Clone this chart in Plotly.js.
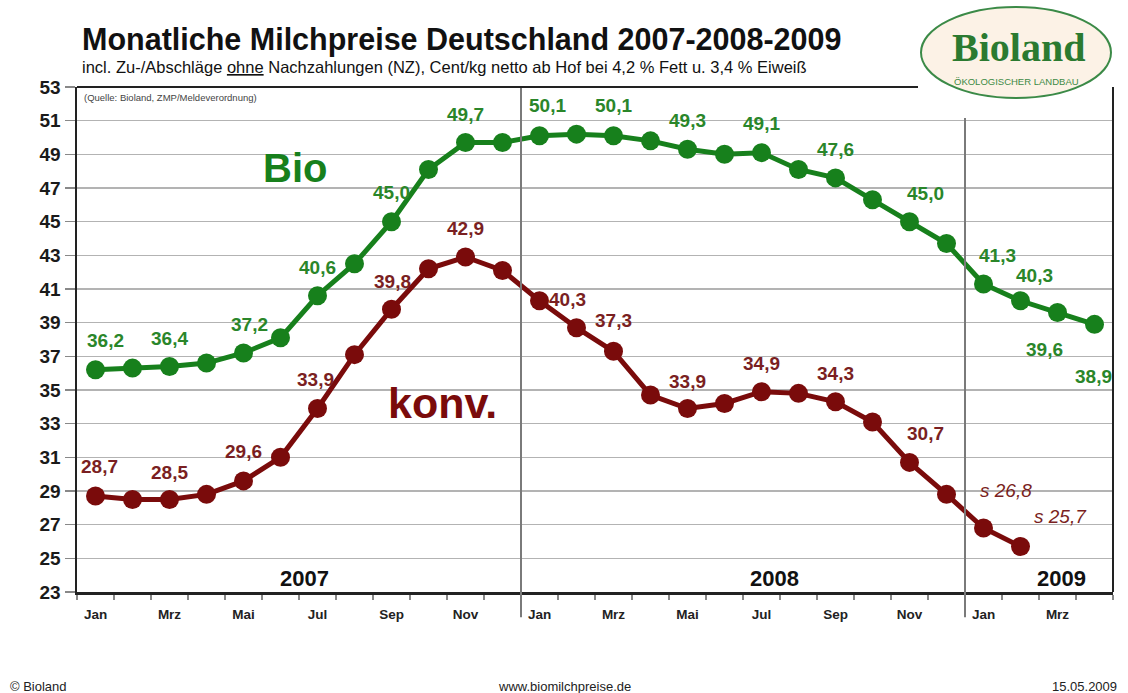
<!DOCTYPE html>
<html>
<head>
<meta charset="utf-8">
<script src="https://cdn.plot.ly/plotly-3.0.1.min.js"></script>
<style>
html,body{margin:0;padding:0;background:#ffffff;}
#chart{width:1128px;height:693px;}
</style>
</head>
<body>
<div id="chart"></div>
<script>
// ---- data ----
const periods = ['2007-01','2007-02','2007-03','2007-04','2007-05','2007-06','2007-07','2007-08','2007-09','2007-10','2007-11','2007-12',
                 '2008-01','2008-02','2008-03','2008-04','2008-05','2008-06','2008-07','2008-08','2008-09','2008-10','2008-11','2008-12',
                 '2009-01','2009-02','2009-03','2009-04'];
const bio  = [36.2,36.3,36.4,36.6,37.2,38.1,40.6,42.5,45.0,48.1,49.7,49.7,
              50.1,50.2,50.1,49.8,49.3,49.0,49.1,48.1,47.6,46.3,45.0,43.7,
              41.3,40.3,39.6,38.9];
const konv = [28.7,28.5,28.5,28.8,29.6,31.0,33.9,37.1,39.8,42.2,42.9,42.1,
              40.3,38.7,37.3,34.7,33.9,34.2,34.9,34.8,34.3,33.1,30.7,28.8,
              26.8,25.7];
const tickLabels = ['Jan','Mrz','Mai','Jul','Sep','Nov','Jan','Mrz','Mai','Jul','Sep','Nov','Jan','Mrz'];
const years = ['2007','2008','2009'];
const bioLabelIdx  = [0,2,4,6,8,10,12,14,16,18,20,22,24,25,26,27];
const konvLabelIdx = [0,2,4,6,8,10,12,14,16,18,20,22,24,25];
const konvEstimated = ['2009-01','2009-02'];   // "s" = geschätzt

// ---- styling / placement ----
const GREEN = '#17801c', RED = '#7a0b0b', GREEN_T = '#2a862a', RED_T = '#7a1f22';
const FONT = 'Arial, "Liberation Sans", Helvetica, sans-serif';
// label offsets in pixels [dx, dy(down)]
const bioOff  = {0:[10,-29],2:[0,-28],4:[6,-28],6:[0,-28],8:[0,-29],10:[0,-28],12:[8,-30],14:[0,-30],16:[0,-29],18:[0,-29],20:[0,-28],22:[16,-28],24:[14,-28],25:[14,-25],26:[-13,37],27:[-1,52]};
const konvOff = {0:[4,-30],2:[0,-27],4:[0,-29],6:[-2,-29],8:[1,-28],10:[0,-29],12:[28,-1],14:[0,-31],16:[0,-27],18:[0,-28],20:[0,-28],22:[16,-29],24:[22,-38],25:[40,-30]};

const x = periods.map((p,i)=>i);
const fmt = v => v.toFixed(1).replace('.',',');

const traces = [
  {x:x.slice(0,bio.length), y:bio, mode:'lines+markers', name:'Bio',
   line:{color:GREEN,width:5}, marker:{color:GREEN,size:19}, hoverinfo:'skip', cliponaxis:false},
  {x:x.slice(0,konv.length), y:konv, mode:'lines+markers', name:'konv.',
   line:{color:RED,width:5}, marker:{color:RED,size:19}, hoverinfo:'skip', cliponaxis:false}
];

const annotations = [];
bioLabelIdx.forEach(i=>{
  const o = bioOff[i]||[0,-28];
  annotations.push({x:i, y:bio[i], xref:'x', yref:'y', text:fmt(bio[i]), showarrow:false,
    xshift:o[0], yshift:-o[1], font:{family:FONT,size:19,color:GREEN_T,weight:'bold'}});
});
konvLabelIdx.forEach(i=>{
  const o = konvOff[i]||[0,-28];
  const est = konvEstimated.includes(periods[i]);
  annotations.push({x:i, y:konv[i], xref:'x', yref:'y',
    text: est ? '<i>s '+fmt(konv[i])+'</i>' : fmt(konv[i]), showarrow:false,
    xshift:o[0], yshift:-o[1], font:{family:FONT,size:19,color:RED_T,weight: est?'normal':'bold'}});
});
// series names
annotations.push({x:5.39, y:48.2, xref:'x', yref:'y', text:'<b>Bio</b>', showarrow:false, font:{family:FONT,size:40,color:GREEN}});
annotations.push({x:9.39, y:34.2, xref:'x', yref:'y', text:'<b>konv.</b>', showarrow:false, font:{family:FONT,size:43,color:RED}});
// year labels
[[5.66,years[0]],[18.36,years[1]],[26.1,years[2]]].forEach(a=>{
  annotations.push({x:a[0], y:0.026, xref:'x', yref:'paper', text:'<b>'+a[1]+'</b>', showarrow:false, yshift:-14,
    font:{family:FONT,size:22,color:'#111'}});
});
// titles & notes (pixel-based via paper coords)
const px = v => (v-77)/1036, py = v => (592-v)/505;
annotations.push({x:px(80), y:py(40), xref:'paper', yref:'paper', xanchor:'left', yanchor:'middle', showarrow:false,
  text:'<b>Monatliche Milchpreise Deutschland 2007-2008-2009</b>', font:{family:FONT,size:30.5,color:'#111'}});
annotations.push({x:px(80), y:py(67), xref:'paper', yref:'paper', xanchor:'left', yanchor:'middle', showarrow:false,
  text:'incl. Zu-/Abschläge <u>ohne</u> Nachzahlungen (NZ), Cent/kg netto ab Hof bei 4,2 % Fett u. 3,4 % Eiweiß', font:{family:FONT,size:16.5,color:'#111'}});
annotations.push({x:px(82), y:py(97), xref:'paper', yref:'paper', xanchor:'left', yanchor:'middle', showarrow:false,
  text:'(Quelle: Bioland, ZMP/Meldeverordnung)', font:{family:FONT,size:9.5,color:'#444'}});
// footer
const NARROW = '"Liberation Sans Narrow", "Arial Narrow", Arial, sans-serif';
annotations.push({x:px(8), y:py(686), xref:'paper', yref:'paper', xanchor:'left', yanchor:'middle', showarrow:false,
  text:'© Bioland', font:{family:NARROW,size:13,color:'#222'}});
annotations.push({x:px(564), y:py(686), xref:'paper', yref:'paper', xanchor:'center', yanchor:'middle', showarrow:false,
  text:'www.biomilchpreise.de', font:{family:NARROW,size:13,color:'#222'}});
annotations.push({x:px(1119), y:py(686), xref:'paper', yref:'paper', xanchor:'right', yanchor:'middle', showarrow:false,
  text:'15.05.2009', font:{family:NARROW,size:13,color:'#222'}});
// logo text
annotations.push({x:px(1018), y:py(48), xref:'paper', yref:'paper', xanchor:'center', yanchor:'middle', showarrow:false,
  text:'<b>Bioland</b>', font:{family:'"Liberation Serif", "DejaVu Serif", serif',size:40,color:'#2b7a30'}});
annotations.push({x:px(1016), y:py(81), xref:'paper', yref:'paper', xanchor:'center', yanchor:'middle', showarrow:false,
  text:'ÖKOLOGISCHER LANDBAU', font:{family:FONT,size:9.5,color:'#3d8a45'}});

const shapes = [
  // dividers between years
  {type:'line', xref:'x', yref:'paper', x0:11.5, x1:11.5, y0:-0.05, y1:1, line:{color:'#7a7a7a',width:2}, layer:'above'},
  {type:'line', xref:'x', yref:'paper', x0:23.5, x1:23.5, y0:-0.05, y1:py(118), line:{color:'#7a7a7a',width:2}, layer:'above'},
  // frame: right and top
  {type:'line', xref:'paper', yref:'paper', x0:1, x1:1, y0:0, y1:1, line:{color:'#222',width:2}, layer:'above'},
  {type:'line', xref:'paper', yref:'paper', x0:0, x1:px(918), y0:1, y1:1, line:{color:'#222',width:2}, layer:'above'},
  // logo ellipse
  {type:'circle', xref:'paper', yref:'paper', x0:px(921), x1:px(1111), y0:py(98), y1:py(7),
   fillcolor:'#fcf2e6', line:{color:'#3b8a47',width:2}, layer:'above'}
];

const layout = {
  width:1128, height:693,
  margin:{l:77, r:15, t:87, b:101},
  paper_bgcolor:'#ffffff', plot_bgcolor:'#ffffff',
  showlegend:false,
  xaxis:{range:[-0.5,27.5], tickvals:tickLabels.map((t,i)=>i*2), ticktext:tickLabels,
         ticks:'outside', ticklen:8, tickcolor:'rgba(0,0,0,0)',
         tickfont:{family:FONT,size:13.5,color:'#222',weight:'bold'},
         showgrid:false, zeroline:false, showline:true, linecolor:'#222', linewidth:2.5,
         minor:{tickvals:periods.map((p,i)=>i-0.5).concat([27.5]), ticks:'outside', ticklen:5, tickcolor:'#888', tickwidth:1.5, showgrid:false},
         fixedrange:true},
  yaxis:{range:[23,53], tickvals:[23,25,27,29,31,33,35,37,39,41,43,45,47,49,51,53],
         ticks:'outside', ticklen:10, tickcolor:'#888', tickwidth:1.5,
         tickfont:{family:FONT,size:19,color:'#1a1a1a',weight:'bold'},
         showgrid:true, gridcolor:'#b3b3b3', gridwidth:1.5, zeroline:false,
         showline:true, linecolor:'#222', linewidth:2.5, fixedrange:true},
  annotations:annotations,
  shapes:shapes
};

Plotly.newPlot('chart', traces, layout, {displayModeBar:false, staticPlot:true});
</script>
</body>
</html>
